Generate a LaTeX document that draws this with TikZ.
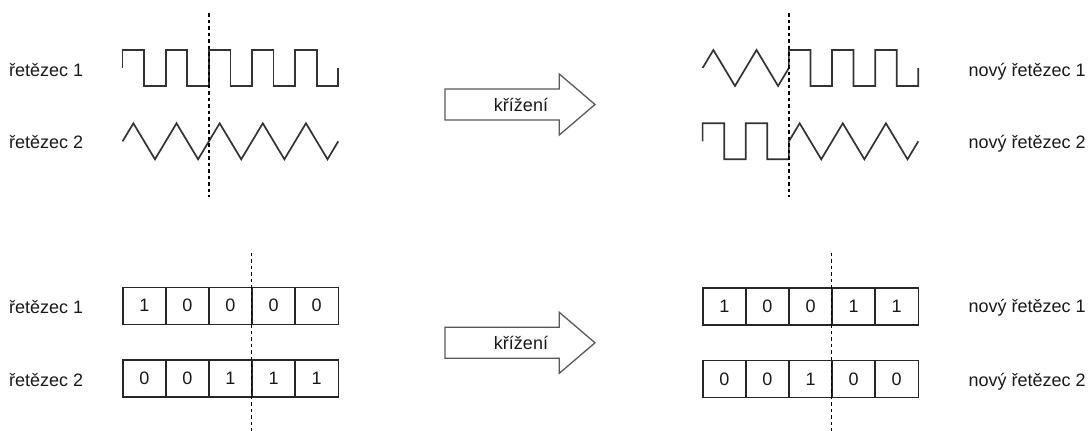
\documentclass[tikz,border=0pt]{standalone}
\usepackage{fontspec}
\setmainfont{Liberation Sans}
\usetikzlibrary{calc}
\begin{document}
\begin{tikzpicture}[x=1pt,y=-1pt,
  wave/.style={draw=black!80,line width=1.7pt,line join=miter},
  cut/.style={draw=black,line width=1.2pt,dash pattern=on 3.5pt off 3pt},
  cell/.style={draw=black!85,line width=1.6pt,minimum width=43.12pt,minimum height=37pt,inner sep=0pt,font=\fontsize{18}{20}\selectfont,text=black!90},
  lbl/.style={anchor=base west,inner sep=0pt,font=\fontsize{18}{20}\selectfont,text=black!90},
  bigarrow/.style={draw=black!65,line width=1.3pt,fill=white,line join=miter},
  arrowtext/.style={anchor=base,inner sep=0pt,font=\fontsize{18}{20}\selectfont,text=black!90}]
\useasboundingbox (0,0) rectangle (1090,431);
\def\h{21.57}

% ---------- signals: parents ----------
% square wave, string 1
\draw[wave] (122.6,68) -- ++(0,-18)
  \foreach \s in {1,-1,1,-1,1,-1,1,-1,1} { -- ++(\h,0) -- ++(0,\s*36) }
  -- ++(\h,0) -- ++(0,-18);
% triangle wave, string 2
\draw[wave] (122.6,141.3) -- ++(\h/2,-18)
  \foreach \s in {1,-1,1,-1,1,-1,1,-1,1} { -- ++(\h,\s*36) }
  -- ++(\h/2,-18);

% ---------- signals: offspring ----------
\draw[wave] (702.6,68) -- ++(\h/2,-18) -- ++(\h,36) -- ++(\h,-36) -- ++(\h,36) -- ++(\h/2,-18)
  -- ++(0,-18)
  -- ++(\h,0) -- ++(0,36) -- ++(\h,0) -- ++(0,-36) -- ++(\h,0) -- ++(0,36)
  -- ++(\h,0) -- ++(0,-36) -- ++(\h,0) -- ++(0,36) -- ++(\h,0) -- ++(0,-18);
\draw[wave] (702.6,141.3) -- ++(0,-18)
  -- ++(\h,0) -- ++(0,36) -- ++(\h,0) -- ++(0,-36) -- ++(\h,0) -- ++(0,36) -- ++(\h,0)
  -- ++(0,-18)
  -- ++(\h/2,-18) -- ++(\h,36) -- ++(\h,-36) -- ++(\h,36) -- ++(\h,-36) -- ++(\h,36) -- ++(\h/2,-18);

% crossover points of the signals
\coordinate (ctl) at (208.9,13);
\coordinate (cbl) at (208.9,197);
\coordinate (ctr) at (788.9,13);
\coordinate (cbr) at (788.9,197);

% labels of the signals
\node[lbl] (s1) at (9,76) {řetězec 1};
\node[lbl] (s2) at (9,148.3) {řetězec 2};
\node[lbl] (n1) at (968.3,76) {nový řetězec 1};
\node[lbl] (n2) at (968.3,148.3) {nový řetězec 2};

% ---------- bit strings: parents ----------
\foreach \b [count=\i] in {1,0,0,0,0}
  \node[cell] (a\i) at ({122.7+43.12*(\i-0.5)},305.8) {\b};
\foreach \b [count=\i] in {0,0,1,1,1}
  \node[cell] (b\i) at ({122.7+43.12*(\i-0.5)},378.6) {\b};
% ---------- bit strings: offspring ----------
\foreach \b [count=\i] in {1,0,0,1,1}
  \node[cell] (c\i) at ({702.7+43.12*(\i-0.5)},306.2) {\b};
\foreach \b [count=\i] in {0,0,1,0,0}
  \node[cell] (d\i) at ({702.7+43.12*(\i-0.5)},379) {\b};

\coordinate (btl) at (251.5,252.7);
\coordinate (bbl) at (251.5,431);
\coordinate (btr) at (831.5,252.7);
\coordinate (bbr) at (831.5,431);

\node[lbl] (t1) at (9,313.3) {řetězec 1};
\node[lbl] (t2) at (9,386.7) {řetězec 2};
\node[lbl] (m1) at (968.3,312.9) {nový řetězec 1};
\node[lbl] (m2) at (968.3,386.7) {nový řetězec 2};

% cut lines
\draw[cut] (ctl) -- (cbl);
\draw[cut] (ctr) -- (cbr);
\draw[cut] (btl) -- (bbl);
\draw[cut] (btr) -- (bbr);

% ---------- crossover arrows ----------
\foreach \y/\n in {104.5/x1,342.8/x2} {
  \draw[bigarrow] (445,\y-15.5) -- (559.3,\y-15.5) -- (559.3,\y-30.5) -- (595,\y)
    -- (559.3,\y+30.5) -- (559.3,\y+15.5) -- (445,\y+15.5) -- cycle;
  \node[arrowtext] (\n) at (521,\y+7) {křížení};
}
\end{tikzpicture}
\end{document}
